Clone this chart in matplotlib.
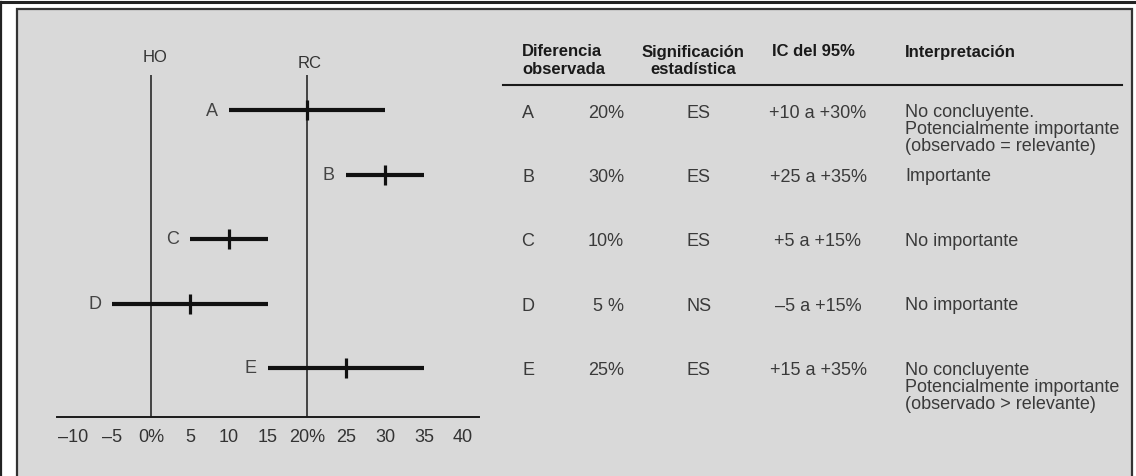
import matplotlib
matplotlib.use("Agg")
import matplotlib.pyplot as plt
from matplotlib.patches import Rectangle

plt.rcParams['font.family'] = ['Liberation Sans', 'DejaVu Sans']

# ---------------- data ----------------
categories = ["A", "B", "C", "D", "E"]
point_est = [20, 30, 10, 5, 25]
ci_low = [10, 25, 5, -5, 15]
ci_high = [30, 35, 15, 15, 35]
tick_vals = [-10, -5, 0, 5, 10, 15, 20, 25, 30, 35, 40]
tick_labels = ["\u201310", "\u20135", "0%", "5", "10", "15", "20%", "25", "30", "35", "40"]
ref_lines = [0, 20]
ref_labels = ["HO", "RC"]

diff_obs = ["20%", "30%", "10%", "5 %", "25%"]
signif = ["ES", "ES", "ES", "NS", "ES"]
ic95 = ["+10 a +30%", "+25 a +35%", "+5 a +15%", "\u20135 a +15%", "+15 a +35%"]
interp = [
    "No concluyente.\nPotencialmente importante\n(observado = relevante)",
    "Importante",
    "No importante",
    "No importante",
    "No concluyente\nPotencialmente importante\n(observado > relevante)",
]
headers = ["Diferencia\nobservada", "Significación\nestadística", "IC del 95%", "Interpretación"]

# ---------------- layout ----------------
W, H = 1136, 477
fig = plt.figure(figsize=(W / 100, H / 100), dpi=100)
fig.patch.set_facecolor("white")

bg = fig.add_axes([0, 0, 1, 1], zorder=0)
bg.set_xlim(0, W)
bg.set_ylim(H, 0)
bg.axis("off")

# panel and frame
bg.add_patch(Rectangle((17, 10), 1115, 480, facecolor="#d9d9d9",
                       edgecolor="#333333", lw=1.6))
bg.plot([0, W], [3, 3], color="#222222", lw=2.2, solid_capstyle="butt")
bg.plot([1, 1], [3, H], color="#222222", lw=1.6)

# chart axes (pixel geometry: x=0 -> 151px, x=20 -> 307px)
px_per = (307 - 151) / 20.0
x0, x1 = 57, 479
row_y0, row_step = 111, 64.5
top_px, bot_px = 76, 418
ax = fig.add_axes([x0 / W, (H - bot_px) / H, (x1 - x0) / W, (bot_px - top_px) / H], zorder=2)
ax.patch.set_alpha(0)
ax.set_xlim((x0 - 151) / px_per, (x1 - 151) / px_per)
ylim_top = (top_px - row_y0) / row_step
ylim_bot = (bot_px - row_y0) / row_step
ax.set_ylim(ylim_bot, ylim_top)
rows = list(range(len(categories)))

for side in ["top", "left", "right"]:
    ax.spines[side].set_visible(False)
ax.spines["bottom"].set_linewidth(1.4)
ax.spines["bottom"].set_color("#1a1a1a")
ax.set_yticks([])
ax.set_xticks(tick_vals)
ax.set_xticklabels(tick_labels, fontsize=13, color="#333333")
ax.tick_params(axis="x", length=0, pad=8)

for xv, lab, off in zip(ref_lines, ref_labels, [(4, 18), (3, 13)]):
    ax.axvline(xv, color="#1a1a1a", lw=1.1)
    ax.annotate(lab, xy=(xv, ylim_top), xycoords="data", xytext=off,
                textcoords="offset pixels", ha="center", va="center",
                fontsize=12, color="#333333", annotation_clip=False)

ax.hlines(rows, ci_low, ci_high, color="#111111", lw=3.0)
ax.plot(point_est, rows, linestyle="none", marker="|", markersize=14.5,
        markeredgewidth=2.3, color="#111111")
for r, lo, c in zip(rows, ci_low, categories):
    ax.annotate(c, xy=(lo, r), xytext=(-11, 0), textcoords="offset pixels",
                ha="right", va="center", fontsize=13, color="#444444")

# ---------------- table ----------------
hdr_kw = dict(fontsize=12, fontweight="bold", color="#1a1a1a")
bg.text(522, 61, headers[0], ha="left", va="center", linespacing=1.25, **hdr_kw)
bg.text(693, 61, headers[1], ha="center", va="center", multialignment="center",
        linespacing=1.25, **hdr_kw)
bg.text(772, 52, headers[2], ha="left", va="center", **hdr_kw)
bg.text(905, 52, headers[3], ha="left", va="center", **hdr_kw)
bg.plot([503, 1122], [86, 86], color="#1a1a1a", lw=1.5)

body_kw = dict(fontsize=13, color="#3a3a3a")
for r, c, d, s, ic, it in zip(rows, categories, diff_obs, signif, ic95, interp):
    y = row_y0 + row_step * r + 2
    bg.text(528, y, c, ha="center", va="center", **body_kw)
    bg.text(624, y, d, ha="right", va="center", **body_kw)
    bg.text(699, y, s, ha="center", va="center", **body_kw)
    bg.text(818, y, ic, ha="center", va="center", **body_kw)
    bg.text(905, y - 9, it, ha="left", va="top", linespacing=1.0, **body_kw)

fig.savefig("out.png", dpi=100, facecolor="white")
